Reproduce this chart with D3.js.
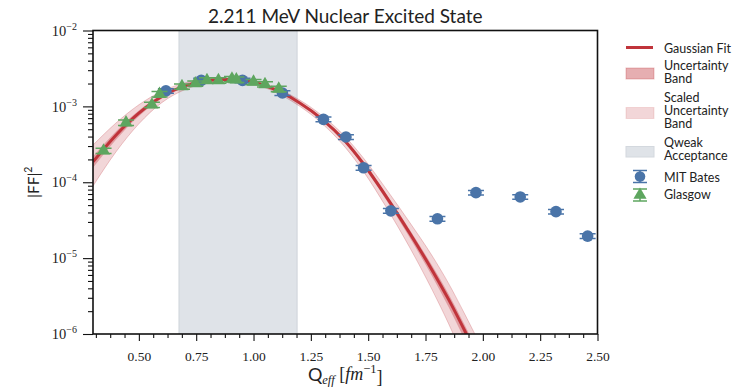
<!DOCTYPE html>
<meta charset="utf-8">
<style>
  body { margin: 0; background: #fff; }
  text { fill: #222; }
</style>
<svg width="742" height="390"></svg>
<script src="https://d3js.org/d3.v7.min.js"></script>
<script>

    // Gaussian fit curve
    var fitQ   = [0.30, 0.40, 0.50, 0.60, 0.70, 0.80, 0.88, 0.95, 1.05, 1.13, 1.20, 1.30, 1.40, 1.48, 1.58, 1.68, 1.78, 1.85, 1.92, 2.00];
    var fitFF  = [1.86e-4, 4.17e-4, 8.13e-4, 1.35e-3, 1.86e-3, 2.19e-3, 2.26e-3, 2.21e-3, 1.88e-3, 1.48e-3, 1.12e-3, 6.76e-4, 3.47e-4, 1.74e-4, 6.38e-5, 2.16e-5, 6.84e-6, 2.88e-6, 1.12e-6, 3.55e-7];
    // uncertainty band
    var bandLo = [1.55e-4, 3.63e-4, 7.41e-4, 1.27e-3, 1.79e-3, 2.14e-3, 2.22e-3, 2.17e-3, 1.85e-3, 1.44e-3, 1.08e-3, 6.46e-4, 3.27e-4, 1.61e-4, 5.75e-5, 1.88e-5, 5.69e-6, 2.29e-6, 8.51e-7, 2.57e-7];
    var bandHi = [2.19e-4, 4.68e-4, 8.81e-4, 1.42e-3, 1.92e-3, 2.24e-3, 2.31e-3, 2.25e-3, 1.92e-3, 1.51e-3, 1.15e-3, 7.00e-4, 3.63e-4, 1.84e-4, 6.89e-5, 2.40e-5, 7.85e-6, 3.39e-6, 1.33e-6, 4.27e-7];
    // scaled uncertainty band
    var scaledLo = [8.91e-5, 2.51e-4, 5.89e-4, 1.12e-3, 1.66e-3, 2.04e-3, 2.14e-3, 2.09e-3, 1.76e-3, 1.36e-3, 1.01e-3, 5.89e-4, 2.88e-4, 1.38e-4, 4.62e-5, 1.40e-5, 3.76e-6, 1.38e-6, 4.57e-7, 1.20e-7];
    var scaledHi = [3.09e-4, 6.03e-4, 1.05e-3, 1.58e-3, 2.04e-3, 2.32e-3, 2.37e-3, 2.32e-3, 2.00e-3, 1.58e-3, 1.22e-3, 7.50e-4, 3.98e-4, 2.07e-4, 8.04e-5, 2.99e-5, 1.06e-5, 4.68e-6, 1.86e-6, 6.17e-7];

    var qweakRange = [0.675, 1.19];

    var mitQ   = [0.618, 0.772, 0.952, 1.126, 1.305, 1.403, 1.480, 1.599, 1.802, 1.970, 2.163, 2.319, 2.457];
    var mitFF  = [1.6e-3, 2.2e-3, 2.2e-3, 1.5e-3, 6.75e-4, 3.95e-4, 1.55e-4, 4.2e-5, 3.3e-5, 7.3e-5, 6.4e-5, 4.1e-5, 1.95e-5];
    var mitErr = [1.1e-4, 1.5e-4, 1.5e-4, 1.05e-4, 4.7e-5, 2.8e-5, 1.1e-5, 3e-6, 2.3e-6, 5e-6, 4.5e-6, 2.9e-6, 1.4e-6];

    var glaQ   = [0.346, 0.444, 0.557, 0.590, 0.688, 0.746, 0.797, 0.847, 0.906, 0.925, 1.000, 1.050, 1.110];
    var glaFF  = [2.6e-4, 6.1e-4, 1.05e-3, 1.45e-3, 1.83e-3, 2.0e-3, 2.2e-3, 2.2e-3, 2.3e-3, 2.25e-3, 2.1e-3, 1.95e-3, 1.7e-3];
    var glaErr = [2.1e-5, 4.9e-5, 8.4e-5, 1.16e-4, 1.46e-4, 1.6e-4, 1.76e-4, 1.76e-4, 1.84e-4, 1.8e-4, 1.68e-4, 1.56e-4, 1.36e-4];

    var xTicks = [0.50, 0.75, 1.00, 1.25, 1.50, 1.75, 2.00, 2.25, 2.50];
    var yTicks = [1e-6, 1e-5, 1e-4, 1e-3, 1e-2];
    var yTickExp = ["\u22126", "\u22125", "\u22124", "\u22123", "\u22122"];

    var legendLabels = [["Gaussian Fit"], ["Uncertainty", "Band"], ["Scaled", "Uncertainty", "Band"],
                        ["Qweak", "Acceptance"], ["MIT Bates"], ["Glasgow"]];

    var red = "#c0343b", blue = "#4a74a8", green = "#5ea65f", grey = "#dfe3e8";
    var sans = "Lato, 'Open Sans', sans-serif", serif = "'Liberation Serif', 'DejaVu Serif', serif";

    var svg = d3.select("svg"),
        margin = {top: 30.5, right: 144.5, bottom: 56, left: 93},
        width = +svg.attr("width") - margin.left - margin.right,
        height = +svg.attr("height") - margin.top - margin.bottom,
        g = svg.append("g").attr("transform", "translate(" + margin.left + "," + margin.top + ")");

    var x = d3.scaleLinear().domain([0.30, 2.50]).range([0, width]);
    var y = d3.scaleLog().domain([1e-6, 1e-2]).range([height, 0]);

    svg.append("defs").append("clipPath").attr("id", "clip")
        .append("rect").attr("width", width).attr("height", height);

    var plot = g.append("g").attr("clip-path", "url(#clip)");

    // qweak acceptance
    plot.append("rect")
        .attr("x", x(qweakRange[0])).attr("width", x(qweakRange[1]) - x(qweakRange[0]))
        .attr("y", 0).attr("height", height)
        .attr("fill", grey).attr("stroke", "#cfd4da").attr("stroke-width", 1);

    var fit = fitQ.map(function(q, i) {
        return {q: q, v: fitFF[i], lo: bandLo[i], hi: bandHi[i], slo: scaledLo[i], shi: scaledHi[i]};
    });

    var areaScaled = d3.area().curve(d3.curveMonotoneX)
        .x(function(d) { return x(d.q); })
        .y0(function(d) { return y(d.slo); })
        .y1(function(d) { return y(d.shi); });
    var areaBand = d3.area().curve(d3.curveMonotoneX)
        .x(function(d) { return x(d.q); })
        .y0(function(d) { return y(d.lo); })
        .y1(function(d) { return y(d.hi); });
    var line = d3.line().curve(d3.curveMonotoneX)
        .x(function(d) { return x(d.q); })
        .y(function(d) { return y(d.v); });

    plot.append("path").datum(fit).attr("d", areaScaled)
        .attr("fill", red).attr("fill-opacity", 0.2)
        .attr("stroke", red).attr("stroke-opacity", 0.25).attr("stroke-width", 1);
    plot.append("path").datum(fit).attr("d", areaBand)
        .attr("fill", red).attr("fill-opacity", 0.35);
    plot.append("path").datum(fit).attr("d", line)
        .attr("fill", "none").attr("stroke", red).attr("stroke-width", 3);

    // error bars with caps
    function errorBars(sel, qs, vs, es, color) {
        var eb = sel.append("g").selectAll("g").data(qs).enter().append("g")
            .attr("stroke", color).attr("stroke-width", 1.5);
        eb.append("line")
            .attr("x1", function(d) { return x(d); }).attr("x2", function(d) { return x(d); })
            .attr("y1", function(d, i) { return y(vs[i] - es[i]); })
            .attr("y2", function(d, i) { return y(vs[i] + es[i]); });
        [-1, 1].forEach(function(s) {
            eb.append("line")
                .attr("x1", function(d) { return x(d) - 8; }).attr("x2", function(d) { return x(d) + 8; })
                .attr("y1", function(d, i) { return y(vs[i] + s * es[i]); })
                .attr("y2", function(d, i) { return y(vs[i] + s * es[i]); });
        });
    }

    errorBars(plot, mitQ, mitFF, mitErr, blue);
    plot.append("g").selectAll("circle").data(mitQ).enter().append("circle")
        .attr("cx", function(d) { return x(d); })
        .attr("cy", function(d, i) { return y(mitFF[i]); })
        .attr("r", 5.8).attr("fill", blue);

    errorBars(plot, glaQ, glaFF, glaErr, green);
    var tri = d3.symbol().type(d3.symbolTriangle).size(75);
    plot.append("g").selectAll("path").data(glaQ).enter().append("path")
        .attr("d", tri)
        .attr("transform", function(d, i) { return "translate(" + x(d) + "," + y(glaFF[i]) + ")"; })
        .attr("fill", green);

    // axes
    var xMinor = d3.range(0.3125, 2.5, 0.0625).filter(function(v) { return Math.abs(v / 0.25 - Math.round(v / 0.25)) > 1e-6; });
    g.append("g").attr("transform", "translate(0," + height + ")")
        .call(d3.axisBottom(x).tickValues(xMinor).tickSize(4).tickFormat(""));
    var xAxis = g.append("g").attr("transform", "translate(0," + height + ")")
        .call(d3.axisBottom(x).tickValues(xTicks).tickSize(7).tickPadding(10).tickFormat(d3.format(".2f")));
    xAxis.selectAll("text").attr("font-family", serif).attr("font-size", 13.5).attr("fill", "#222");

    var yMinor = [];
    yTicks.slice(0, -1).forEach(function(t) { for (var k = 2; k <= 9; k++) yMinor.push(t * k); });
    g.append("g").call(d3.axisLeft(y).tickValues(yMinor).tickSize(5).tickFormat(""));
    var yAxis = g.append("g").call(d3.axisLeft(y).tickValues(yTicks).tickSize(10).tickFormat(""));
    yAxis.selectAll(".tick").each(function(d, i) {
        var t = d3.select(this).append("text")
            .attr("x", -16).attr("dy", "0.32em").attr("text-anchor", "end")
            .attr("font-family", serif).attr("font-size", 14.5).attr("fill", "#222");
        t.append("tspan").text("10");
        t.append("tspan").attr("font-size", 10).attr("dy", "-0.6em").text(yTickExp[i]);
    });
    g.selectAll(".domain").remove();
    g.selectAll(".tick line").attr("stroke", "#111").attr("stroke-width", 1.1);

    // frame
    g.append("rect").attr("width", width).attr("height", height)
        .attr("fill", "none").attr("stroke", "#111").attr("stroke-width", 1.6);

    // title & labels
    svg.append("text").attr("x", margin.left + width / 2).attr("y", 23)
        .attr("text-anchor", "middle").attr("font-family", sans).attr("font-size", 19)
        .text("2.211 MeV Nuclear Excited State");

    var yl = svg.append("text")
        .attr("transform", "translate(39," + (margin.top + height / 2) + ") rotate(-90)")
        .attr("text-anchor", "middle").attr("font-family", sans).attr("font-size", 15.5);
    yl.append("tspan").text("|FF|");
    yl.append("tspan").attr("font-size", 10.5).attr("dy", "-0.7em").text("2");

    var xl = svg.append("text").attr("x", margin.left + width / 2).attr("y", 381)
        .attr("text-anchor", "middle").attr("font-family", serif).attr("font-size", 18);
    xl.append("tspan").attr("font-family", sans).text("Q");
    xl.append("tspan").attr("font-style", "italic").attr("font-size", 12.5).attr("dy", "0.22em").text("eff");
    xl.append("tspan").attr("dy", "-0.22em").text(" [");
    xl.append("tspan").attr("font-style", "italic").text("fm");
    xl.append("tspan").attr("font-size", 12.5).attr("dy", "-0.55em").text("\u22121");
    xl.append("tspan").attr("dy", "0.55em").text("]");

    // legend
    var lg = svg.append("g").attr("font-family", sans).attr("font-size", 12.5);
    var rowBase = [52.5, 70, 102, 147, 181.5, 199];
    legendLabels.forEach(function(lines, i) {
        lines.forEach(function(s, j) {
            lg.append("text").attr("x", 664).attr("y", rowBase[i] + j * 13).text(s);
        });
    });
    lg.append("line").attr("x1", 626).attr("x2", 653).attr("y1", 47.5).attr("y2", 47.5)
        .attr("stroke", red).attr("stroke-width", 3);
    lg.append("rect").attr("x", 626).attr("y", 68).attr("width", 28).attr("height", 11)
        .attr("fill", red).attr("fill-opacity", 0.4).attr("stroke", red).attr("stroke-opacity", 0.3);
    lg.append("rect").attr("x", 626).attr("y", 107.5).attr("width", 28).attr("height", 11)
        .attr("fill", red).attr("fill-opacity", 0.2).attr("stroke", red).attr("stroke-opacity", 0.15);
    lg.append("rect").attr("x", 626).attr("y", 146.5).attr("width", 28).attr("height", 10.5)
        .attr("fill", grey).attr("stroke", "#d3d8de");
    [[blue, 176.5, "circle"], [green, 195, "tri"]].forEach(function(m) {
        var cy = m[1];
        lg.append("line").attr("x1", 640).attr("x2", 640).attr("y1", cy - 6).attr("y2", cy + 6)
            .attr("stroke", m[0]).attr("stroke-width", 1.5);
        [-6, 6].forEach(function(o) {
            lg.append("line").attr("x1", 633).attr("x2", 647).attr("y1", cy + o).attr("y2", cy + o)
                .attr("stroke", m[0]).attr("stroke-width", 1.5);
        });
        if (m[2] === "circle") {
            lg.append("circle").attr("cx", 640).attr("cy", cy).attr("r", 5.3).attr("fill", m[0]);
        } else {
            lg.append("path").attr("d", tri).attr("transform", "translate(640," + cy + ")").attr("fill", m[0]);
        }
    });
</script>
